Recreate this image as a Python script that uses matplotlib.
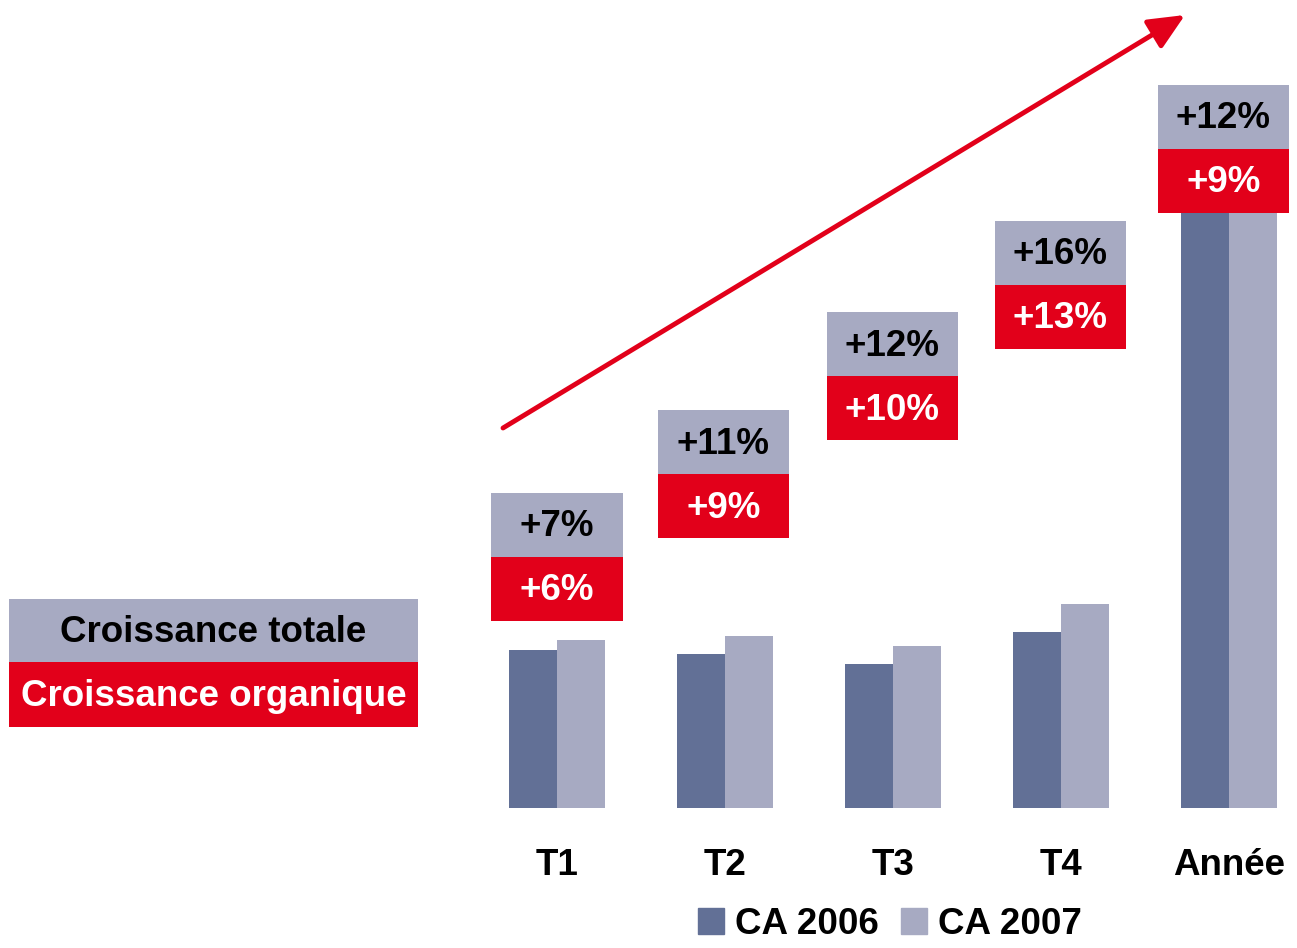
import numpy as np
import matplotlib.pyplot as plt
from matplotlib.patches import Rectangle, Patch

plt.rcParams["font.family"] = ["Liberation Sans", "DejaVu Sans"]

# data (arbitrary units)
periods = ["T1", "T2", "T3", "T4", "Année"]
ca_2006 = [158, 154, 144, 176, 632]
ca_2007 = [168, 172, 162, 204, 706]
growth_total = ["+7%", "+11%", "+12%", "+16%", "+12%"]
growth_organic = ["+6%", "+9%", "+10%", "+13%", "+9%"]

# layout
label_bottom = [187, 270, 368, 459, 595]
label_xshift = [0, -0.01, -0.003, -0.003, -0.033]
box_w, box_h = 0.78, 64
bar_w = 0.285
fs = 26.5

c_dark = "#627096"
c_light = "#A7AAC2"
c_red = "#E2001A"

W, H = 1297, 948
fig = plt.figure(figsize=(W / 100, H / 100), dpi=100)
base = 808
ax = fig.add_axes([0, (H - base) / H, 1, base / H])
ax.set_xlim(-557 / 168, (W - 557) / 168)
ax.set_ylim(0, base)
for s in ax.spines.values():
    s.set_visible(False)
ax.set_yticks([])

x = np.arange(len(periods))
ax.bar(x - bar_w / 2, ca_2006, bar_w, color=c_dark, zorder=2)
ax.bar(x + bar_w / 2, ca_2007, bar_w, color=c_light, zorder=2)

ax.set_xticks(x, periods, fontsize=fs, fontweight="bold")
ax.tick_params(axis="x", length=0, pad=29)

for i in range(len(periods)):
    cx = x[i] + label_xshift[i]
    b = label_bottom[i]
    ax.add_patch(Rectangle((cx - box_w / 2, b), box_w, box_h, color=c_red, zorder=3, lw=0))
    ax.add_patch(Rectangle((cx - box_w / 2, b + box_h), box_w, box_h, color=c_light, zorder=3, lw=0))
    ax.text(cx, b + box_h / 2 - 2, growth_organic[i], ha="center", va="center",
            fontsize=fs, fontweight="bold", color="white", zorder=4)
    ax.text(cx, b + box_h * 1.5 - 2, growth_total[i], ha="center", va="center",
            fontsize=fs, fontweight="bold", color="black", zorder=4)

# left key boxes
lx0, lx1 = -548 / 168, -139 / 168
ax.add_patch(Rectangle((lx0, 808 - 727), lx1 - lx0, 65, color=c_red, lw=0, clip_on=False))
ax.add_patch(Rectangle((lx0, 808 - 662), lx1 - lx0, 63, color=c_light, lw=0, clip_on=False))
ax.text((lx0 + lx1) / 2, 808 - 697, "Croissance organique", ha="center", va="center",
        fontsize=fs, fontweight="bold", color="white")
ax.text((lx0 + lx1) / 2, 808 - 633, "Croissance totale", ha="center", va="center",
        fontsize=fs, fontweight="bold", color="black")

# trend arrow
ax.annotate("", xy=((1185 - 557) / 168, 808 - 15), xytext=((503 - 557) / 168, 808 - 428),
            arrowprops=dict(arrowstyle="-|>,head_length=2.2,head_width=1.0",
                            color=c_red, lw=3.5, shrinkA=0, shrinkB=0),
            annotation_clip=False)

handles = [Patch(color=c_dark, label="CA 2006"), Patch(color=c_light, label="CA 2007")]
leg = fig.legend(handles=handles, loc="center", bbox_to_anchor=(890 / W, 1 - 924 / H), ncol=2,
                 frameon=False, handlelength=0.7, handleheight=0.7, handletextpad=0.3,
                 columnspacing=0.6, prop={"size": fs, "weight": "bold"})

fig.savefig("out.png", dpi=100)
